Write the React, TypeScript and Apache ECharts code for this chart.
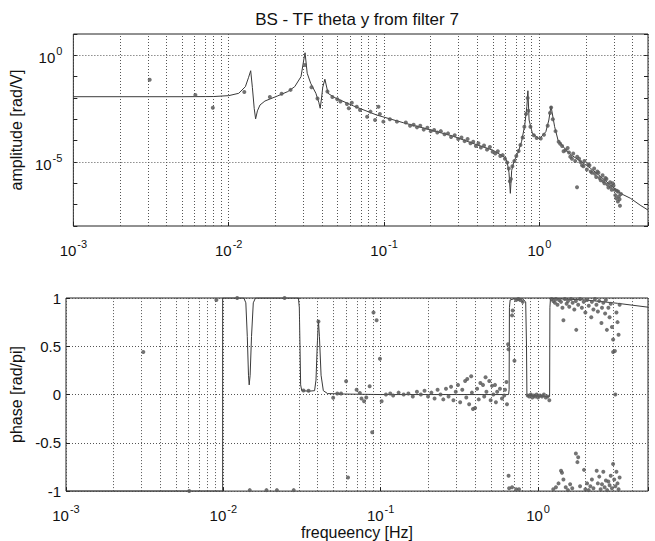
import React, { useEffect, useRef } from "react";
import * as echarts from "echarts";

const TITLE = "BS - TF theta y from filter 7";
const X_NAME = "frequeency [Hz]";
const AMP_NAME = "amplitude [rad/V]";
const PHASE_NAME = "phase [rad/pi]";

// axis ranges (frequency in Hz, amplitude in rad/V, phase in rad/pi)
const X_MIN = 0.001;
const X_MAX = 5;
const AMP_MIN = 1e-8;
const AMP_MAX = 10;
const AMP_LABEL_EXPONENTS = [0, -5];
const AMP_GRID_VALUES = [1, 1e-5];
const X_DECADES = [0.001, 0.01, 0.1, 1];
const MINOR_MULTIPLIERS = [2, 3, 4, 5, 6, 7, 8, 9];
const PHASE_MIN = -1;
const PHASE_MAX = 1;
const PHASE_STEP = 0.5;

// model transfer function amplitude [Hz, rad/V]
const ampModel: [number, number][] = [
  [0.001, 1.15e-2], [0.005, 1.15e-2], [0.008, 1.17e-2], [0.01, 1.29e-2], [0.0116, 1.66e-2],
  [0.0128, 3.39e-2], [0.0134, 8.9e-2], [0.01385, 1.9e-1], [0.0142, 3.16e-2], [0.0146, 3.16e-3],
  [0.0149, 1.05e-3], [0.0153, 2.5e-3], [0.0159, 4.7e-3], [0.0171, 7.2e-3], [0.0207, 1.26e-2],
  [0.024, 2.0e-2], [0.0266, 3.4e-2], [0.0292, 1.0e-1], [0.0304, 6.0e-1], [0.031, 1.32],
  [0.032, 1.45e-1], [0.0337, 4.9e-2], [0.0364, 1.66e-2], [0.038, 6.3e-3], [0.0388, 3.3e-3],
  [0.0396, 1.0e-2], [0.0403, 3.16e-2], [0.0416, 7.6e-2], [0.0436, 1.66e-2], [0.0477, 1.07e-2],
  [0.0638, 4.2e-3], [0.0899, 1.58e-3], [0.1334, 6.9e-4], [0.2, 3.16e-4], [0.276, 1.66e-4],
  [0.398, 6.3e-5], [0.5, 3.6e-5], [0.598, 1.66e-5], [0.62, 1.0e-5], [0.637, 3.16e-6],
  [0.65, 3.4e-7], [0.663, 4.0e-6], [0.685, 1.05e-5], [0.726, 2.57e-5], [0.767, 8.9e-5],
  [0.805, 5.4e-4], [0.83, 3.9e-3], [0.843, 2.19e-2], [0.858, 9.3e-4], [0.901, 2.19e-4],
  [0.999, 1.2e-4], [1.1, 2.63e-4], [1.15, 9.3e-4], [1.187, 4.2e-3], [1.253, 4.5e-4],
  [1.317, 1.07e-4], [1.451, 4.4e-5], [1.6, 2.14e-5], [1.853, 1.05e-5], [2.14, 5.0e-6],
  [2.48, 2.04e-6], [2.87, 8.3e-7], [3.32, 3.4e-7], [3.85, 2.0e-7], [4.45, 9.5e-8], [5.0, 5.6e-8],
];

// measured amplitude [Hz, rad/V]
const ampMeasured: [number, number][] = [
  [0.0031, 7.1e-2], [0.0061, 1.38e-2], [0.0079, 3.5e-3], [0.0126, 1.9e-2], [0.0184, 1.12e-2],
  [0.0219, 1.58e-2], [0.025, 2.4e-2], [0.031, 3.5e-1], [0.0341, 3.16e-2], [0.0373, 9.5e-3],
  [0.0432, 2.0e-2], [0.0465, 1.12e-2], [0.05, 8.7e-3], [0.0524, 6.8e-3], [0.0577, 5.2e-3],
  [0.0593, 3.3e-3], [0.062, 6.0e-3], [0.0667, 3.9e-3], [0.07, 2.75e-3], [0.0778, 1.32e-3],
  [0.0817, 2.3e-3], [0.0875, 9.3e-4], [0.092, 3.9e-3], [0.094, 1.78e-3], [0.099, 7.8e-4],
  [0.109, 1.0e-3], [0.121, 7.8e-4], [0.138, 7.1e-4], [0.147, 5.0e-4], [0.155, 5.6e-4],
  [0.163, 4.2e-4], [0.171, 5.0e-4], [0.18, 3.3e-4], [0.19, 4.0e-4], [0.2, 2.8e-4],
  [0.21, 3.16e-4], [0.22, 2.4e-4], [0.232, 2.8e-4], [0.245, 2.0e-4], [0.258, 2.2e-4],
  [0.27, 1.5e-4], [0.285, 1.78e-4], [0.3, 1.2e-4], [0.315, 1.41e-4], [0.33, 9.5e-5],
  [0.345, 1.2e-4], [0.36, 7.6e-5], [0.375, 8.9e-5], [0.39, 5.6e-5], [0.405, 7.6e-5],
  [0.42, 4.8e-5], [0.44, 6.0e-5], [0.46, 3.8e-5], [0.48, 5.0e-5], [0.5, 3.0e-5],
  [0.52, 2.5e-5], [0.54, 3.16e-5], [0.56, 1.9e-5], [0.58, 2.1e-5], [0.6, 1.41e-5],
  [0.62, 9.5e-6], [0.635, 5.0e-6], [0.645, 1.26e-6], [0.655, 1.58e-6], [0.67, 6.3e-6],
  [0.69, 1.12e-5], [0.71, 1.9e-5], [0.735, 3.3e-5], [0.755, 6.3e-5], [0.78, 1.41e-4],
  [0.8, 4.5e-4], [0.82, 1.78e-3], [0.84, 1.0e-2], [0.85, 2.5e-3], [0.875, 4.5e-4],
  [0.92, 1.78e-4], [0.96, 1.32e-4], [1.02, 1.26e-4], [1.07, 1.9e-4], [1.13, 5.0e-4],
  [1.17, 2.0e-3], [1.19, 3.55e-3], [1.22, 1.0e-3], [1.27, 2.8e-4], [1.33, 8.9e-5],
  [1.36, 7.1e-5], [1.4, 5.6e-5], [1.43, 3.16e-5], [1.47, 3.55e-5], [1.52, 4.5e-5],
  [1.55, 2.8e-5], [1.58, 1.78e-5], [1.62, 1.41e-5], [1.65, 2.5e-5], [1.7, 1.12e-5],
  [1.746, 6.5e-7], [1.75, 1.78e-5], [1.8, 1.41e-5], [1.84, 1.0e-5], [1.88, 7.1e-6],
  [1.92, 6.3e-6], [1.95, 1.12e-5], [2.02, 4.5e-6], [2.06, 7.9e-6], [2.1, 7.1e-6],
  [2.14, 3.55e-6], [2.18, 3.16e-6], [2.25, 5.0e-6], [2.28, 2.8e-6], [2.32, 2.0e-6],
  [2.36, 3.55e-6], [2.4, 3.16e-6], [2.44, 1.78e-6], [2.48, 1.41e-6], [2.55, 2.4e-6],
  [2.58, 1.26e-6], [2.62, 1.0e-6], [2.66, 1.78e-6], [2.7, 1.58e-6], [2.74, 8.9e-7],
  [2.78, 6.3e-7], [2.85, 1.12e-6], [2.88, 7.1e-7], [2.92, 5.0e-7], [2.96, 1.0e-6],
  [3.0, 7.9e-7], [3.05, 5.0e-7], [3.08, 2.8e-7], [3.12, 2.0e-7], [3.15, 4.5e-7],
  [3.2, 1.41e-7], [3.22, 4.0e-7], [3.25, 2.5e-7], [3.28, 1.78e-7], [3.3, 8.9e-8], [3.35, 3.16e-7],
];

// model phase [Hz, rad/pi]
const phaseModel: [number, number][] = [
  [0.001, -1], [0.0099, -1], [0.0099, 1], [0.0135, 1], [0.0139, 0.95], [0.0142, 0.6],
  [0.01445, 0.2], [0.0146, 0.1], [0.0148, 0.2], [0.0151, 0.6], [0.0155, 0.95], [0.016, 1],
  [0.03, 1], [0.0304, 0.9], [0.0307, 0.5], [0.031, 0.1], [0.0315, 0.04], [0.035, 0.035],
  [0.038, 0.04], [0.0388, 0.15], [0.0395, 0.5], [0.0402, 0.77], [0.0408, 0.6], [0.0418, 0.2],
  [0.0432, 0.04], [0.046, 0.01], [0.06, 0.005], [0.1, 0], [0.65, 0], [0.655, 0.05],
  [0.658, 0.9], [0.665, 0.98], [0.7, 0.99], [0.8, 0.99], [0.835, 0.96], [0.845, 0.5],
  [0.85, -0.01], [1.0, -0.015], [1.185, -0.02], [1.19, 0.9], [1.2, 0.995], [2.0, 0.98],
  [3.2, 0.945], [5.0, 0.905],
];

// measured phase [Hz, rad/pi]
const phaseMeasured: [number, number][] = [
  [0.0031, 0.44], [0.00607, -1], [0.00903, 0.98], [0.01225, 1], [0.01472, -0.99],
  [0.0188, -0.99], [0.0219, -0.99], [0.0245, 1], [0.028, -0.99], [0.0323, 0.041],
  [0.0348, 0.04], [0.0402, 0.756], [0.0499, -0.034], [0.053, 0.01], [0.056, 0.01],
  [0.0603, 0.137], [0.062, -0.86], [0.0703, 0.05], [0.0737, 0.016], [0.0755, -0.04],
  [0.0784, -0.07], [0.081, -0.03], [0.0851, 0.086], [0.0883, -0.39], [0.09, 0.85],
  [0.0942, 0.77], [0.0989, 0.37], [0.1014, -0.07], [0.108, 0.0], [0.115, 0.01],
  [0.12, -0.01], [0.13, 0.02], [0.14, 0.0], [0.15, 0.01], [0.16, -0.02], [0.17, 0.03],
  [0.18, 0.0], [0.19, 0.04], [0.2, -0.02], [0.21, 0.02], [0.22, -0.04], [0.23, 0.05],
  [0.24, 0.0], [0.25, -0.05], [0.26, 0.06], [0.27, -0.02], [0.28, 0.08], [0.29, -0.06],
  [0.3, 0.03], [0.31, 0.1], [0.32, -0.08], [0.33, 0.05], [0.344, 0.14], [0.35, -0.03],
  [0.355, 0.16], [0.365, -0.1], [0.376, 0.19], [0.38, 0.02], [0.386, -0.15], [0.398, -0.14],
  [0.41, 0.06], [0.42, -0.05], [0.43, 0.12], [0.447, 0.1], [0.455, -0.02], [0.464, 0.18],
  [0.47, 0.03], [0.49, 0.14], [0.5, -0.06], [0.51, 0.09], [0.52, 0.0], [0.533, 0.1],
  [0.54, -0.08], [0.55, 0.03], [0.573, 0.06], [0.59, -0.04], [0.61, -0.01], [0.617, 0.05],
  [0.63, 0.13], [0.635, -0.1], [0.645, 0.52], [0.65, 0.47], [0.65, -0.84], [0.655, -0.97],
  [0.684, 0.82], [0.69, 0.87], [0.708, 0.35], [0.726, 0.98], [0.75, 0.99], [0.77, 0.98],
  [0.8, 0.96], [0.684, -0.96], [0.726, -0.98], [0.757, -0.98], [0.86, -0.01], [0.88, -0.02],
  [0.9, 0.0], [0.92, -0.03], [0.94, -0.01], [0.96, -0.02], [0.98, 0.0], [1.0, -0.03],
  [1.03, -0.01], [1.06, -0.02], [1.09, 0.0], [1.12, -0.03], [1.15, -0.02], [1.18, -0.06],
  [1.22, 0.99], [1.25, 0.97], [1.28, 0.95], [1.3, 0.99], [1.33, 0.93], [1.36, 0.98],
  [1.4, 0.96], [1.43, 0.9], [1.45, 0.77], [1.48, 0.99], [1.52, 0.94], [1.55, 0.97],
  [1.58, 0.91], [1.62, 0.99], [1.66, 0.95], [1.7, 0.88], [1.74, 0.97], [1.75, 0.67],
  [1.8, 0.93], [1.85, 0.99], [1.9, 0.9], [1.95, 0.96], [2.0, 0.85], [2.05, 0.98],
  [2.1, 0.92], [2.18, 0.8], [2.2, 0.96], [2.25, 0.88], [2.3, 0.99], [2.35, 0.93],
  [2.4, 0.86], [2.45, 0.97], [2.53, 0.74], [2.55, 0.9], [2.6, 0.95], [2.67, 0.84],
  [2.7, 0.98], [2.74, 0.67], [2.8, 0.9], [2.85, 0.8], [2.9, 0.94], [2.95, 0.7],
  [3.0, 0.57], [3.0, 0.44], [3.08, 0.45], [3.1, 0.0], [3.15, 0.85], [3.2, 0.75],
  [3.25, 0.62], [3.3, 0.93],
  [1.25, -0.98], [1.3, -0.96], [1.35, -0.92], [1.4, -0.79], [1.42, -0.81], [1.45, -0.88],
  [1.5, -0.96], [1.55, -0.99], [1.6, -0.93], [1.65, -0.97], [1.74, -0.61], [1.78, -0.7],
  [1.8, -0.65], [1.85, -0.95], [1.96, -0.78], [2.0, -0.98], [2.05, -0.92], [2.1, -0.99],
  [2.15, -0.95], [2.2, -0.88], [2.25, -0.97], [2.36, -0.79], [2.4, -0.92], [2.45, -0.85],
  [2.5, -0.98], [2.55, -0.93], [2.6, -0.8], [2.65, -0.96], [2.7, -0.89], [2.75, -0.99],
  [2.8, -0.9], [2.85, -0.94], [2.9, -0.84], [2.95, -0.97], [3.0, -0.72], [3.05, -0.88],
  [3.1, -0.95], [3.15, -0.8], [3.2, -0.92], [3.25, -0.98], [3.3, -0.86],
];

const FONT = "Liberation Sans, Arial, Helvetica, sans-serif";
const INK = "#111";
const GRID_COLOR = "#555";
const DOT = [1, 2];

const lg = Math.log10;
// values are plotted on decade (log10) value axes
const logXY = (arr: [number, number][]) => arr.map(([f, a]) => [lg(f), lg(a)]);
const logX = (arr: [number, number][]) => arr.map(([f, p]) => [lg(f), p]);

const rich = {
  b: { fontSize: 15, fontFamily: FONT, color: INK, verticalAlign: "bottom" },
  s: { fontSize: 11, fontFamily: FONT, color: INK, verticalAlign: "bottom", padding: [0, 0, 9, 1] },
};

function powLabel(e: number, allowed?: number[]) {
  const r = Math.round(e);
  if (Math.abs(e - r) > 1e-6) return "";
  if (allowed && allowed.indexOf(r) < 0) return "";
  return "{b|10}{s|" + r + "}";
}

const minorX: number[] = [];
X_DECADES.forEach((d) => MINOR_MULTIPLIERS.forEach((m) => {
  const v = d * m;
  if (v < X_MAX) minorX.push(v);
}));

function gridLineSeries(xi: number, yi: number, hLines: number[]) {
  return {
    type: "line",
    xAxisIndex: xi,
    yAxisIndex: yi,
    data: [],
    silent: true,
    z: 1,
    markLine: {
      silent: true,
      symbol: ["none", "none"],
      label: { show: false },
      lineStyle: { color: GRID_COLOR, type: DOT, width: 1 },
      animation: false,
      data: [
        ...minorX.map((v) => ({ xAxis: lg(v) })),
        ...hLines.map((v) => ({ yAxis: v })),
      ],
    },
  };
}

function xAxisCfg(gridIndex: number, withName: boolean) {
  return {
    type: "value",
    gridIndex,
    min: lg(X_MIN),
    max: lg(X_MAX),
    interval: 1,
    axisLine: { show: false, onZero: false },
    axisTick: { show: true, inside: true, length: 4, lineStyle: { color: "#222" } },
    splitLine: { show: true, lineStyle: { color: GRID_COLOR, type: DOT, width: 1 } },
    axisLabel: { margin: 12, formatter: (v: number) => powLabel(v), rich, showMaxLabel: true },
    name: withName ? X_NAME : "",
    nameLocation: "middle",
    nameGap: 29,
    nameTextStyle: { fontSize: 16, fontFamily: FONT, color: INK },
  };
}

export default function App() {
  const ref = useRef<HTMLDivElement>(null);
  useEffect(() => {
    if (!ref.current) return;
    const chart = echarts.init(ref.current, null, { renderer: "svg" });
    chart.setOption({
      animation: false,
      backgroundColor: "#fff",
      graphic: [
        {
          type: "text",
          x: 357,
          y: 19,
          style: { text: TITLE, fontSize: 17, fontFamily: FONT, fill: INK, align: "center", verticalAlign: "middle" },
        },
      ],
      grid: [
        { left: 66, right: 7, top: 34, height: 192, show: true, borderColor: "#222", borderWidth: 1, backgroundColor: "transparent" },
        { left: 66, right: 7, top: 298, height: 194, show: true, borderColor: "#222", borderWidth: 1, backgroundColor: "transparent" },
      ],
      xAxis: [xAxisCfg(0, false), xAxisCfg(1, true)],
      yAxis: [
        {
          type: "value",
          gridIndex: 0,
          min: lg(AMP_MIN),
          max: lg(AMP_MAX),
          interval: 1,
          axisLine: { show: false, onZero: false },
          axisTick: { show: true, inside: true, length: 4, lineStyle: { color: "#222" } },
          splitLine: { show: false },
          axisLabel: { margin: 11, formatter: (v: number) => powLabel(v, AMP_LABEL_EXPONENTS), rich },
          name: AMP_NAME,
          nameLocation: "middle",
          nameGap: 37,
          nameTextStyle: { fontSize: 16, fontFamily: FONT, color: INK },
        },
        {
          type: "value",
          gridIndex: 0,
          position: "right",
          min: lg(AMP_MIN),
          max: lg(AMP_MAX),
          interval: 1,
          axisLine: { show: false, onZero: false },
          axisTick: { show: true, inside: true, length: 4, lineStyle: { color: "#222" } },
          splitLine: { show: false },
          axisLabel: { show: false },
        },
        {
          type: "value",
          gridIndex: 1,
          min: PHASE_MIN,
          max: PHASE_MAX,
          interval: PHASE_STEP,
          axisLine: { show: false, onZero: false },
          axisTick: { show: true, inside: true, length: 4, lineStyle: { color: "#222" } },
          splitLine: { show: true, lineStyle: { color: GRID_COLOR, type: DOT, width: 1 } },
          axisLabel: { margin: 5, fontSize: 15, fontFamily: FONT, color: INK, formatter: (v: number) => String(v) },
          name: PHASE_NAME,
          nameLocation: "middle",
          nameGap: 36,
          nameTextStyle: { fontSize: 16, fontFamily: FONT, color: INK },
        },
      ],
      series: [
        gridLineSeries(0, 0, AMP_GRID_VALUES.map(lg)),
        gridLineSeries(1, 2, []),
        {
          name: "amplitude model",
          type: "line",
          xAxisIndex: 0,
          yAxisIndex: 0,
          data: logXY(ampModel),
          showSymbol: false,
          lineStyle: { color: "#3a3a3a", width: 1 },
          z: 3,
        },
        {
          name: "amplitude measured",
          type: "scatter",
          xAxisIndex: 0,
          yAxisIndex: 0,
          data: logXY(ampMeasured),
          symbolSize: 4,
          itemStyle: { color: "#5a5a5a", opacity: 0.85 },
          z: 4,
        },
        {
          name: "phase model",
          type: "line",
          xAxisIndex: 1,
          yAxisIndex: 2,
          data: logX(phaseModel),
          showSymbol: false,
          lineStyle: { color: "#3a3a3a", width: 1 },
          z: 3,
        },
        {
          name: "phase measured",
          type: "scatter",
          xAxisIndex: 1,
          yAxisIndex: 2,
          data: logX(phaseMeasured),
          symbolSize: 4,
          itemStyle: { color: "#5a5a5a", opacity: 0.85 },
          z: 4,
        },
      ],
    });
    return () => chart.dispose();
  }, []);
  return <div ref={ref} style={{ position: "absolute", left: 0, top: 0, width: 655, height: 541 }} />;
}
